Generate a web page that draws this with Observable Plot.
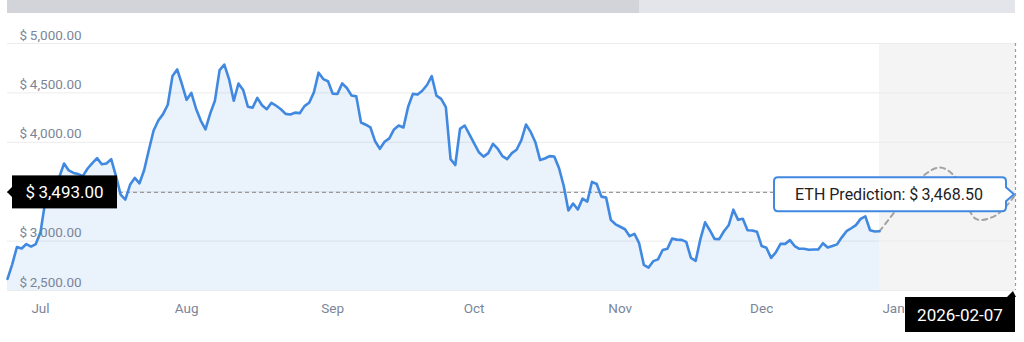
<!DOCTYPE html>
<html><head><meta charset="utf-8">
<script src="https://cdn.jsdelivr.net/npm/d3@7"></script>
<script src="https://cdn.jsdelivr.net/npm/@observablehq/plot@0.6"></script>
<style>
html,body{margin:0;padding:0;background:#fff;}
#chart{width:1024px;height:342px;overflow:hidden;}
</style></head><body><div id="chart"></div>
<script>
// ---- data ----
const historyStart = "2025-06-24"; // daily closes
const historyPrices = [
  2618,2765,2940,2925,2970,2945,2970,3090,3400,3500,
  3550,3650,3785,3715,3690,3678,3660,3735,3790,3840,
  3778,3786,3830,3660,3470,3420,3570,3640,3585,3720,
  3925,4120,4220,4285,4380,4670,4737,4590,4430,4500,
  4340,4220,4130,4290,4420,4730,4787,4640,4420,4595,
  4530,4360,4350,4450,4375,4335,4400,4370,4335,4288,
  4282,4300,4295,4366,4400,4505,4705,4640,4618,4492,
  4490,4596,4550,4473,4465,4200,4178,4150,4010,3934,
  4005,4040,4130,4170,4150,4360,4490,4483,4522,4580,
  4670,4473,4440,4355,3830,3770,4136,4170,4080,3990,
  3900,3855,3890,3985,3935,3860,3830,3890,3925,4020,
  4180,4105,4000,3820,3836,3860,3856,3740,3560,3310,
  3380,3320,3430,3400,3600,3578,3450,3440,3215,3170,
  3145,3120,3050,3074,2979,2760,2732,2797,2815,2910,
  2922,3025,3015,3012,2992,2830,2800,3020,3190,3110,
  3023,3020,3100,3160,3318,3215,3226,3110,3107,3095,
  2950,2932,2830,2885,2972,2972,3010,2950,2922,2922,
  2912,2915,2915,2979,2935,2950,2967,3038,3100,3130,
  3162,3225,3250,3110,3097,3100
];
const predictionDates = ["2025-12-26","2026-01-01","2026-01-08","2026-01-15","2026-01-20","2026-01-26","2026-02-01","2026-02-07"];
const predictionPrices = [3100,3280,3600,3745,3640,3225,3260,3468.5];
const gridTicks = [2500,3000,3500,4000,4500,5000];
const yLabelTicks = [2500,3000,4000,4500,5000]; // $3,500 label sits under the price tag
const monthTicks = ["2025-07-01","2025-08-01","2025-09-01","2025-10-01","2025-11-01","2025-12-01","2026-01-01"];
const monthNames = ["Jul","Aug","Sep","Oct","Nov","Dec","Jan"];
const currentPrice = 3493.00;
const predictedPrice = 3468.50;
const predictionLabel = "ETH Prediction";
const targetDate = "2026-02-07";

(function () {
// ---- build tables ----
const t0 = new Date(historyStart + "T00:00:00Z");
const hist = historyPrices.map((p, i) => ({date: d3.utcDay.offset(t0, i), price: p}));
const pred = predictionDates.map((d, i) => ({date: new Date(d + "T00:00:00Z"), price: predictionPrices[i]}));
const months = monthTicks.map((d, i) => ({date: new Date(d + "T00:00:00Z"), label: monthNames[i]}));
const histEnd = hist[hist.length - 1].date;
const predEnd = pred[pred.length - 1].date;
const jan1 = months[months.length - 1].date;
const band = [{a: histEnd, b: predEnd, lo: 2500, hi: 5000}];

const money = v => "$\u2009" + d3.format(",.2f")(v);
const blue = "#4189e0";
const labelColor = "#7b8599";

const plot = Plot.plot({
  width: 1024, height: 342,
  marginTop: 43, marginBottom: 52, marginLeft: 7, marginRight: 9,
  style: {fontFamily: "Roboto, 'Noto Sans', sans-serif", fontSize: "13px", background: "#fff"},
  x: {type: "utc", domain: [hist[0].date, histEnd, jan1, predEnd], range: [7, 879, 893, 1015], axis: null},
  y: {domain: [2500, 5000], axis: null},
  marks: [
    Plot.rect(band, {x1: "a", x2: "b", y1: "lo", y2: "hi", fill: "#f4f4f4"}),
    Plot.ruleY(gridTicks, {stroke: "#ececec", strokeWidth: 1}),
    Plot.area(hist, {x1: "date", y1: () => 2500, y2: "price", fill: blue, fillOpacity: 0.11}),
    Plot.ruleY([currentPrice], {stroke: "#9a9a9a", strokeWidth: 1.2, strokeDasharray: "4,3"}),
    Plot.ruleX([predEnd], {stroke: "#9a9a9a", strokeWidth: 1.2, strokeDasharray: "3,3"}),
    Plot.line(pred, {x: "date", y: "price", stroke: "#a3a3a3", strokeWidth: 2, strokeDasharray: "5,4", curve: "catmull-rom"}),
    Plot.line(hist, {x: "date", y: "price", stroke: blue, strokeWidth: 2.6, strokeLinejoin: "round"}),
    Plot.text(yLabelTicks, {y: d => d, frameAnchor: "left", dx: 12, dy: -4, lineAnchor: "bottom", textAnchor: "start", text: d => money(d), fill: labelColor, fontSize: 13.5}),
    Plot.text(months, {x: "date", frameAnchor: "bottom", dy: 22, text: "label", fill: labelColor, fontSize: 13.5})
  ]
});
document.getElementById("chart").appendChild(plot);

// ---- callouts positioned with the plot's scales ----
const X = plot.scale("x"), Y = plot.scale("y");
const svg = d3.select(plot);
const xL = X.apply(hist[0].date), xR = X.apply(predEnd);
const yBot = Y.apply(2500);

// top slider
svg.append("rect").attr("x", xL).attr("y", 0).attr("width", xR - xL).attr("height", 13).attr("fill", "#e4e5ea");
svg.append("rect").attr("x", xL).attr("y", 0).attr("width", (xR - xL) * 0.627).attr("height", 13).attr("fill", "#d3d4d9");

// current price label (left)
const yc = Y.apply(currentPrice);
const g1 = svg.append("g");
g1.append("path").attr("d", `M${xL},${yc} L${xL + 6},${yc - 6} L${xL + 6},${yc + 6}Z`).attr("fill", "#000");
g1.append("rect").attr("x", xL + 5).attr("y", yc - 16.5).attr("width", 105).attr("height", 33).attr("fill", "#000");
g1.append("text").attr("x", xL + 57.5).attr("y", yc).attr("dy", "0.36em").attr("text-anchor", "middle")
  .attr("fill", "#fff").attr("font-size", 17).attr("font-family", "Roboto, sans-serif").text(money(currentPrice));

// prediction tooltip (right)
const yp = Y.apply(predictedPrice);
const bR = xR - 9, bL = xR - 241, bT = yp - 17, bB = yp + 17, r = 4;
const g2 = svg.append("g");
g2.append("path").attr("d",
  `M${bL + r},${bT} H${bR - r} Q${bR},${bT} ${bR},${bT + r} V${yp - 7} L${xR - 1},${yp} L${bR},${yp + 7} V${bB - r} Q${bR},${bB} ${bR - r},${bB} H${bL + r} Q${bL},${bB} ${bL},${bB - r} V${bT + r} Q${bL},${bT} ${bL + r},${bT} Z`)
  .attr("fill", "#fff").attr("stroke", blue).attr("stroke-width", 2);
g2.append("text").attr("x", (bL + bR) / 2 - 1).attr("y", yp).attr("dy", "0.36em").attr("text-anchor", "middle")
  .attr("fill", "#222").attr("font-size", 16).attr("font-family", "Roboto, sans-serif")
  .text(`${predictionLabel}: ${money(predictedPrice)}`);

// date label (bottom right)
const g3 = svg.append("g");
g3.append("path").attr("d", `M${xR - 8},${yBot + 7} L${xR - 2},${yBot + 1} L${xR + 1},${yBot + 7}Z`).attr("fill", "#000");
g3.append("rect").attr("x", xR - 110).attr("y", yBot + 7).attr("width", 110).attr("height", 35).attr("fill", "#000");
g3.append("text").attr("x", xR - 55).attr("y", yBot + 24.5).attr("dy", "0.36em").attr("text-anchor", "middle")
  .attr("fill", "#fff").attr("font-size", 17).attr("font-family", "Roboto, sans-serif").text(targetDate);
})();
</script>
</body></html>
